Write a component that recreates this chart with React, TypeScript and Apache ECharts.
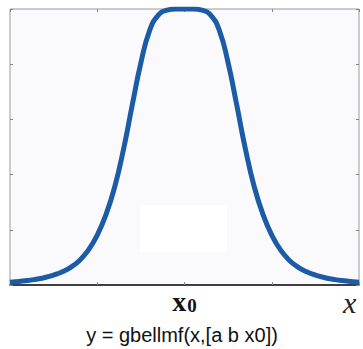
import React, { useEffect, useRef } from "react";
import * as echarts from "echarts";

const xValues = [
  -2.0, -1.9, -1.8, -1.7, -1.6, -1.5, -1.4, -1.3, -1.2, -1.1, -1.0, -0.9, -0.8, -0.7, -0.6, -0.5, -0.4, -0.3, -0.2, -0.1,
  0.0, 0.1, 0.2, 0.3, 0.4, 0.5, 0.6, 0.7, 0.8, 0.9, 1.0, 1.1, 1.2, 1.3, 1.4, 1.5, 1.6, 1.7, 1.8, 1.9, 2.0,
];
const yValues = [
  0.010, 0.013, 0.016, 0.021, 0.027, 0.036, 0.048, 0.065, 0.090, 0.127, 0.181, 0.255, 0.355, 0.49, 0.65, 0.805, 0.922, 0.978, 0.996, 1.0,
  1.0, 1.0, 0.996, 0.978, 0.922, 0.805, 0.65, 0.49, 0.355, 0.255, 0.181, 0.127, 0.090, 0.065, 0.048, 0.036, 0.027, 0.021, 0.016, 0.013, 0.010,
];
const centerLabel = { base: "x", sub: "0" };
const axisName = "x";
const caption = "y = gbellmf(x,[a b x0])";

export default function App() {
  const ref = useRef<HTMLDivElement>(null);
  useEffect(() => {
    if (!ref.current) return;
    const chart = echarts.init(ref.current, null, { renderer: "svg" });
    const data = xValues.map((x, i) => [x, yValues[i]]);
    const tick = { show: true, inside: true, length: 3, lineStyle: { color: "#888" } };
    chart.setOption({
      animation: false,
      backgroundColor: "#ffffff",
      grid: {
        left: 10,
        right: 4,
        top: 9,
        bottom: 64,
        show: true,
        backgroundColor: "#fafafd",
        borderColor: "#9a9a9a",
        borderWidth: 1,
      },
      xAxis: [
        {
          type: "value",
          min: -2,
          max: 2,
          interval: 1,
          position: "bottom",
          axisLine: { show: true, onZero: false, lineStyle: { color: "#111", width: 1.5 } },
          axisTick: tick,
          splitLine: { show: false },
          axisLabel: {
            margin: 2,
            formatter: (v: number) => (v === 0 ? `{a|${centerLabel.base}}{b|${centerLabel.sub}}` : ""),
            rich: {
              a: { fontFamily: "Liberation Serif", fontWeight: "bold", fontSize: 28, color: "#111" },
              b: { fontFamily: "Liberation Serif", fontWeight: "bold", fontSize: 19, color: "#111", padding: [8, 0, 0, 1] },
            },
          },
        },
        {
          type: "value",
          min: -2,
          max: 2,
          interval: 1,
          position: "top",
          axisLine: { show: false, onZero: false },
          axisTick: tick,
          axisLabel: { show: false },
          splitLine: { show: false },
        },
      ],
      yAxis: [
        {
          type: "value",
          min: 0,
          max: 1,
          interval: 0.2,
          position: "left",
          axisLine: { show: false, onZero: false },
          axisTick: tick,
          axisLabel: { show: false },
          splitLine: { show: false },
        },
        {
          type: "value",
          min: 0,
          max: 1,
          interval: 0.2,
          position: "right",
          axisLine: { show: false, onZero: false },
          axisTick: tick,
          axisLabel: { show: false },
          splitLine: { show: false },
        },
      ],
      graphic: [
        {
          type: "rect",
          shape: { x: 140, y: 205, width: 87, height: 47 },
          style: { fill: "#ffffff" },
          z: 0,
          silent: true,
        },
        {
          type: "text",
          x: 343,
          y: 302,
          style: {
            text: axisName,
            fontFamily: "Liberation Serif",
            fontStyle: "italic",
            fontSize: 30,
            fill: "#222",
            textAlign: "left",
            textVerticalAlign: "middle",
          },
        },
        {
          type: "text",
          x: 182,
          y: 335,
          style: {
            text: caption,
            fontFamily: "Liberation Sans",
            fontSize: 20,
            fill: "#111",
            textAlign: "center",
            textVerticalAlign: "middle",
          },
        },
      ],
      series: [
        {
          type: "line",
          data,
          smooth: true,
          showSymbol: false,
          clip: true,
          lineStyle: { color: "#1c5ba6", width: 5 },
          z: 5,
        },
      ],
    });
    return () => chart.dispose();
  }, []);
  return <div ref={ref} style={{ position: "absolute", left: 0, top: 0, width: 363, height: 349 }} />;
}
